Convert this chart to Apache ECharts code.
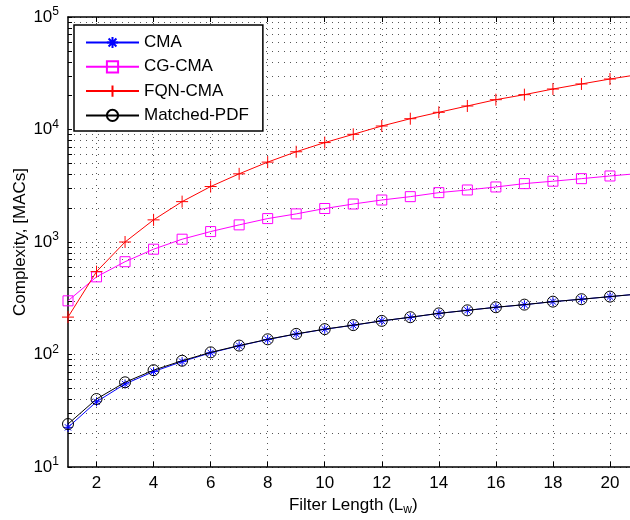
<!DOCTYPE html>
<html>
<head>
<meta charset="utf-8">
<script src="https://cdn.jsdelivr.net/npm/echarts@6/dist/echarts.min.js"></script>
<style>
html,body{margin:0;padding:0;background:#fff;}
#chart{width:630px;height:520px;}
</style>
</head>
<body>
<div id="chart"></div>
<script>
// ---- data ----
const filterLength = [1,2,3,4,5,6,7,8,9,10,11,12,13,14,15,16,17,18,19,20,21];
const cma        = [22.5,38,54.7,70.5,86.5,103.5,119.5,136,152,167.6,182,199,214,232,247,263,277,295,310,327,345];
const cgCma      = [300,490,668,863,1059,1238,1420,1615,1778,1985,2176,2362,2530,2746,2900,3085,3303,3470,3657,3863,4060];
const fqnCma     = [215,545,1000,1573,2285,3112,4035,5130,6340,7650,9060,10740,12470,14220,16180,18410,20400,22900,25400,28100,30800];
const matchedPdf = [24.1,40.2,56.6,72.5,88,104.5,120,136.5,152.5,168,182.5,199,214.5,232,247,263,277.5,295,310,327,345];

const xTicks = [2,4,6,8,10,12,14,16,18,20];
const yDecades = [10,100,1000,10000,100000];
const yGridTicks = [];
for (let d = 10; d < 100000; d *= 10) { for (let m = 1; m < 10; m++) yGridTicks.push(d*m); }
yGridTicks.push(100000);

const seriesNames = ['CMA','CG-CMA','FQN-CMA','Matched-PDF'];

const FONT = '"Liberation Sans", Arial, Helvetica, sans-serif';
const pairs = arr => filterLength.map((x,i)=>[x,arr[i]]);

const asterisk = 'path://M5,0L5,10M0,5L10,5M1.5,1.5L8.5,8.5M8.5,1.5L1.5,8.5';
const plus = 'path://M5,0L5,10M0,5L10,5';

const dotted = {color:'#555', width:1, type:[1,5]};

const chart = echarts.init(document.getElementById('chart'), null, {renderer:'canvas'});
chart.setOption({
  animation:false,
  backgroundColor:'#fff',
  textStyle:{fontFamily:FONT},
  grid:{left:68, top:17, width:570.5, height:450, outerBoundsMode:'none', containLabel:false},
  legend:{
    orient:'vertical', left:74, top:25,
    backgroundColor:'#fff', borderColor:'#000', borderWidth:1.5,
    padding:[9,14,7,11], itemGap:7.3, itemWidth:53, itemHeight:14,
    textStyle:{fontFamily:FONT, fontSize:17, color:'#000'},
    data:seriesNames
  },
  xAxis:[{
    type:'value', min:1, max:21, position:'bottom',
    axisLine:{lineStyle:{color:'#000', width:1.5}},
    axisTick:{inside:true, length:5, customValues:xTicks, lineStyle:{color:'#000'}},
    axisLabel:{customValues:xTicks, fontFamily:FONT, fontSize:17, color:'#000', margin:8},
    splitLine:{show:true, lineStyle:dotted},
    name:'{n|Filter Length (L}{s|w}{n|)}',
    nameLocation:'middle', nameGap:27, nameMoveOverlap:false,
    nameTextStyle:{rich:{n:{fontFamily:FONT,fontSize:17,color:'#000'}, s:{fontFamily:FONT,fontSize:12,color:'#000',padding:[10,0,0,0]}}}
  },{
    type:'value', min:1, max:21, position:'top',
    axisLine:{lineStyle:{color:'#000', width:1.5}},
    axisTick:{inside:true, length:5, customValues:xTicks, lineStyle:{color:'#000'}},
    axisLabel:{show:false}, splitLine:{show:false}
  }],
  yAxis:[{
    type:'log', logBase:10, min:10, max:100000,
    axisLine:{show:true, lineStyle:{color:'#000', width:1.5}},
    axisTick:{show:true, inside:true, length:4, customValues:yGridTicks, lineStyle:{color:'#000'}},
    axisLabel:{
      customValues:yDecades, margin:9,
      formatter: v => '{b|10}{s|' + Math.round(Math.log10(v)) + '}',
      rich:{b:{fontFamily:FONT,fontSize:17,color:'#000'}, s:{fontFamily:FONT,fontSize:12,color:'#000',padding:[0,0,10,0]}}
    },
    splitLine:{show:true, lineStyle:dotted},
    minorSplitLine:{show:false},
    name:'Complexity, [MACs]', nameLocation:'middle', nameGap:39, nameMoveOverlap:false,
    nameTextStyle:{fontFamily:FONT, fontSize:17, color:'#000'}
  }],
  series:[
    {name:'CMA', type:'line', data:pairs(cma), symbol:asterisk, symbolSize:9,
     lineStyle:{color:'#0000ff', width:1}, itemStyle:{color:'rgba(0,0,0,0)', borderColor:'#0000ff', borderWidth:1}, z:3},
    {name:'CG-CMA', type:'line', data:pairs(cgCma), symbol:'rect', symbolSize:10,
     lineStyle:{color:'#ff00ff', width:1}, itemStyle:{color:'rgba(0,0,0,0)', borderColor:'#ff00ff', borderWidth:1}, z:3},
    {name:'FQN-CMA', type:'line', data:pairs(fqnCma), symbol:plus, symbolSize:12,
     lineStyle:{color:'#ff0000', width:1}, itemStyle:{color:'rgba(0,0,0,0)', borderColor:'#ff0000', borderWidth:1}, z:3},
    {name:'Matched-PDF', type:'line', data:pairs(matchedPdf), symbol:'circle', symbolSize:11,
     lineStyle:{color:'#000000', width:1}, itemStyle:{color:'rgba(0,0,0,0)', borderColor:'#000000', borderWidth:1}, z:4}
  ]
});
</script>
</body>
</html>
